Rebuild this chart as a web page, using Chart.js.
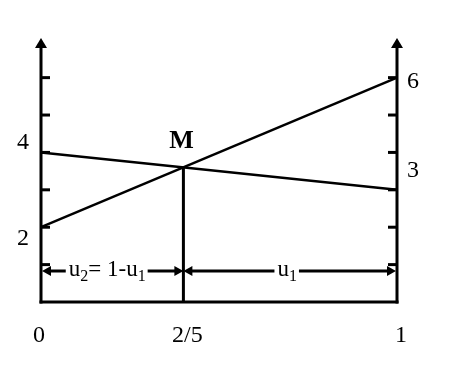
<!DOCTYPE html>
<html>
<head>
<meta charset="utf-8">
<script src="https://cdn.jsdelivr.net/npm/chart.js@4"></script>
<style>
  html, body { margin: 0; padding: 0; background: #fff; }
  #wrap { width: 456px; height: 377px; }
</style>
</head>
<body>
<div id="wrap"><canvas id="chart"></canvas></div>
<script>
// data
const uValues = [0, 1];          // share of strategy 1
const payoffA = [2, 6];          // rising line
const payoffB = [4, 3];          // falling line
const mixPoint = [0.4, 3.6];     // M
const xTicks = [0, 0.4, 1];
const xTickLabels = ["0", "2/5", "1"];
const yTicks = [1, 2, 3, 4, 5, 6];
const leftLabels = [4, 2];
const rightLabels = [6, 3];

const serif = '"Liberation Serif", "Times New Roman", serif';

function head(ctx, x, y, dir, len, half) {
  ctx.beginPath();
  if (dir === "up") { ctx.moveTo(x, y); ctx.lineTo(x - half, y + len); ctx.lineTo(x + half, y + len); }
  else if (dir === "left") { ctx.moveTo(x, y); ctx.lineTo(x + len, y - half); ctx.lineTo(x + len, y + half); }
  else { ctx.moveTo(x, y); ctx.lineTo(x - len, y - half); ctx.lineTo(x - len, y + half); }
  ctx.closePath();
  ctx.fill();
}

function seg(ctx, xa, ya, xb, yb) {
  ctx.beginPath(); ctx.moveTo(xa, ya); ctx.lineTo(xb, yb); ctx.stroke();
}

// text with subscripts, centered at cx; returns [left, right]
function subText(ctx, parts, cx, base, size) {
  const subSize = Math.round(size * 0.68);
  let w = 0;
  parts.forEach(p => {
    ctx.font = (p.sub ? subSize : size) + "px " + serif;
    p.w = ctx.measureText(p.t).width;
    w += p.w;
  });
  let x = cx - w / 2;
  ctx.textAlign = "left";
  ctx.textBaseline = "alphabetic";
  parts.forEach(p => {
    ctx.font = (p.sub ? subSize : size) + "px " + serif;
    ctx.fillText(p.t, x, p.sub ? base + 5 : base);
    x += p.w;
  });
  return [cx - w / 2, cx + w / 2];
}

const diagram = {
  id: "diagram",
  afterDraw(chart) {
    const { ctx, chartArea, scales: { x, y } } = chart;
    const x0 = x.getPixelForValue(0), x1 = x.getPixelForValue(1);
    const y0 = y.getPixelForValue(0), top = chartArea.top;
    ctx.save();
    ctx.strokeStyle = "#000";
    ctx.fillStyle = "#000";
    ctx.lineCap = "butt";

    // axes
    ctx.lineWidth = 3;
    seg(ctx, x0 - 1.5, y0, x1 + 1.5, y0);
    seg(ctx, x0, y0 + 1.5, x0, top + 8);
    seg(ctx, x1, y0 + 1.5, x1, top + 8);
    head(ctx, x0, top, "up", 10, 6);
    head(ctx, x1, top, "up", 10, 6);

    // tick marks
    yTicks.forEach(v => {
      const py = y.getPixelForValue(v);
      seg(ctx, x0, py, x0 + 9, py);
      seg(ctx, x1 - 9, py, x1, py);
    });

    // tick labels
    ctx.font = "24px " + serif;
    ctx.textAlign = "center";
    ctx.textBaseline = "alphabetic";
    const leftDy = { 4: -3, 2: 18 };
    leftLabels.forEach(v => ctx.fillText(String(v), x0 - 18, y.getPixelForValue(v) + leftDy[v]));
    const rightDy = { 6: 10, 3: -13 };
    rightLabels.forEach(v => ctx.fillText(String(v), x1 + 16, y.getPixelForValue(v) + rightDy[v]));
    const xDx = [-2, 4, 4];
    xTicks.forEach((v, i) => ctx.fillText(xTickLabels[i], x.getPixelForValue(v) + xDx[i], y0 + 40));

    // M
    ctx.font = "bold 26px " + serif;
    ctx.fillText("M", x.getPixelForValue(mixPoint[0]) - 2, y.getPixelForValue(mixPoint[1]) - 19);

    // span arrows
    const xm = x.getPixelForValue(mixPoint[0]);
    const ya = y0 - 31;
    ctx.lineWidth = 3;
    const l = subText(ctx, [{ t: "u" }, { t: "2", sub: true }, { t: "= 1-u" }, { t: "1", sub: true }], (x0 + xm) / 2 - 5, ya + 5, 23);
    seg(ctx, x0 + 6, ya, l[0] - 3, ya);
    head(ctx, x0 + 1, ya, "left", 9, 5);
    seg(ctx, l[1] + 2, ya, xm - 6, ya);
    head(ctx, xm, ya, "right", 9, 5);
    head(ctx, xm, ya, "left", 9, 5);
    const r = subText(ctx, [{ t: "u" }, { t: "1", sub: true }], (xm + x1) / 2 - 3, ya + 5, 23);
    seg(ctx, xm + 6, ya, r[0] - 3, ya);
    seg(ctx, r[1] + 2, ya, x1 - 6, ya);
    head(ctx, x1 - 1, ya, "right", 9, 5);

    ctx.restore();
  }
};

const lineStyle = { borderColor: "#000", borderWidth: 2.5, pointRadius: 0, showLine: true, fill: false, clip: false, tension: 0 };

new Chart(document.getElementById("chart"), {
  type: "scatter",
  data: {
    datasets: [
      { ...lineStyle, data: uValues.map((u, i) => ({ x: u, y: payoffA[i] })) },
      { ...lineStyle, data: uValues.map((u, i) => ({ x: u, y: payoffB[i] })) },
      { ...lineStyle, borderWidth: 3, data: [{ x: mixPoint[0], y: 0 }, { x: mixPoint[0], y: mixPoint[1] }] }
    ]
  },
  options: {
    responsive: true,
    maintainAspectRatio: false,
    animation: false,
    layout: { padding: { left: 41, right: 59, top: 38, bottom: 75 } },
    plugins: { legend: { display: false }, tooltip: { enabled: false } },
    scales: {
      x: { type: "linear", display: false, min: 0, max: 1 },
      y: { display: false, min: 0, max: 7.06 }
    }
  },
  plugins: [diagram]
});
</script>
</body>
</html>
